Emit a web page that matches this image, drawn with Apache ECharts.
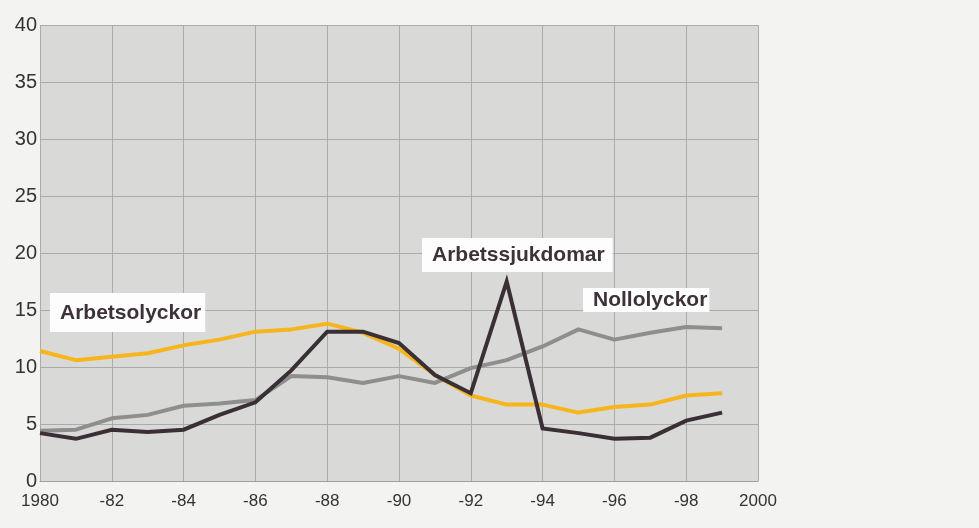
<!DOCTYPE html>
<html>
<head>
<meta charset="utf-8">
<script src="https://cdn.jsdelivr.net/npm/echarts@6/dist/echarts.min.js"></script>
<style>
html,body{margin:0;padding:0;background:#f3f3f2;}
#c{width:979px;height:528px;}
</style>
</head>
<body>
<div id="c"></div>
<script>
const years = [1980,1981,1982,1983,1984,1985,1986,1987,1988,1989,1990,1991,1992,1993,1994,1995,1996,1997,1998,1999];
const arbetsolyckor   = [11.4,10.6,10.9,11.2,11.9,12.4,13.1,13.3,13.8,13.0,11.6,9.3,7.5,6.7,6.7,6.0,6.5,6.7,7.5,7.7];
const arbetssjukdomar = [4.2,3.7,4.5,4.3,4.5,5.8,6.9,9.7,13.1,13.1,12.1,9.3,7.7,17.5,4.6,4.2,3.7,3.8,5.3,6.0];
const nollolyckor     = [4.4,4.5,5.5,5.8,6.6,6.8,7.1,9.2,9.1,8.6,9.2,8.6,9.9,10.6,11.8,13.3,12.4,13.0,13.5,13.4];
const xTickLabels = ['1980','-82','-84','-86','-88','-90','-92','-94','-96','-98','2000'];
const yTickLabels = ['0','5','10','15','20','25','30','35','40'];
const seriesNames = ['Arbetsolyckor','Arbetssjukdomar','Nollolyckor'];

const pair = arr => years.map((y,i)=>[y,arr[i]]);
const chart = echarts.init(document.getElementById('c'));
const font = '"Liberation Sans", Arial, Helvetica, sans-serif';
const lbl = (text, x, y, pad) => ({
  type:'text', left:x, top:y, z:100,
  style:{text:text, font:'bold 21px '+font, fill:'#3d3239', lineHeight:24,
    backgroundColor:'#fdfdfd', padding:pad}
});
chart.setOption({
  animation:false,
  backgroundColor:'#f3f3f2',
  grid:{left:40,right:221,top:25,bottom:47,show:true,backgroundColor:'#d9d9d8',borderWidth:0},
  xAxis:{type:'value',min:1980,max:2000,interval:2,
    axisLine:{show:true,lineStyle:{color:'#9e9e9e',width:1}},
    axisTick:{show:false},
    splitLine:{show:true,lineStyle:{color:'#ababab',width:1}},
    axisLabel:{color:'#333',fontSize:17,fontFamily:font,margin:12,
      formatter:v=>xTickLabels[Math.round((v-1980)/2)]}},
  yAxis:{type:'value',min:0,max:40,interval:5,
    axisLine:{show:false},axisTick:{show:false},
    splitLine:{show:true,lineStyle:{color:'#ababab',width:1}},
    axisLabel:{color:'#333',fontSize:20,fontFamily:font,margin:3,
      formatter:v=>yTickLabels[Math.round(v/5)]}},
  series:[
    {name:seriesNames[1],type:'line',data:pair(arbetssjukdomar),symbol:'none',z:3,
      lineStyle:{color:'#3a2f35',width:4,join:'miter'}},
    {name:seriesNames[2],type:'line',data:pair(nollolyckor),symbol:'none',z:2,
      lineStyle:{color:'#8e8e8e',width:4}},
    {name:seriesNames[0],type:'line',data:pair(arbetsolyckor),symbol:'none',z:1,
      lineStyle:{color:'#f7b51c',width:4}}
  ],
  graphic:[
    lbl(seriesNames[0],50,293,[8,4,7,10]),
    lbl(seriesNames[1],422,238,[5,8,5,10]),
    lbl(seriesNames[2],583,288,[0,2,0,10])
  ]
});
</script>
</body>
</html>
